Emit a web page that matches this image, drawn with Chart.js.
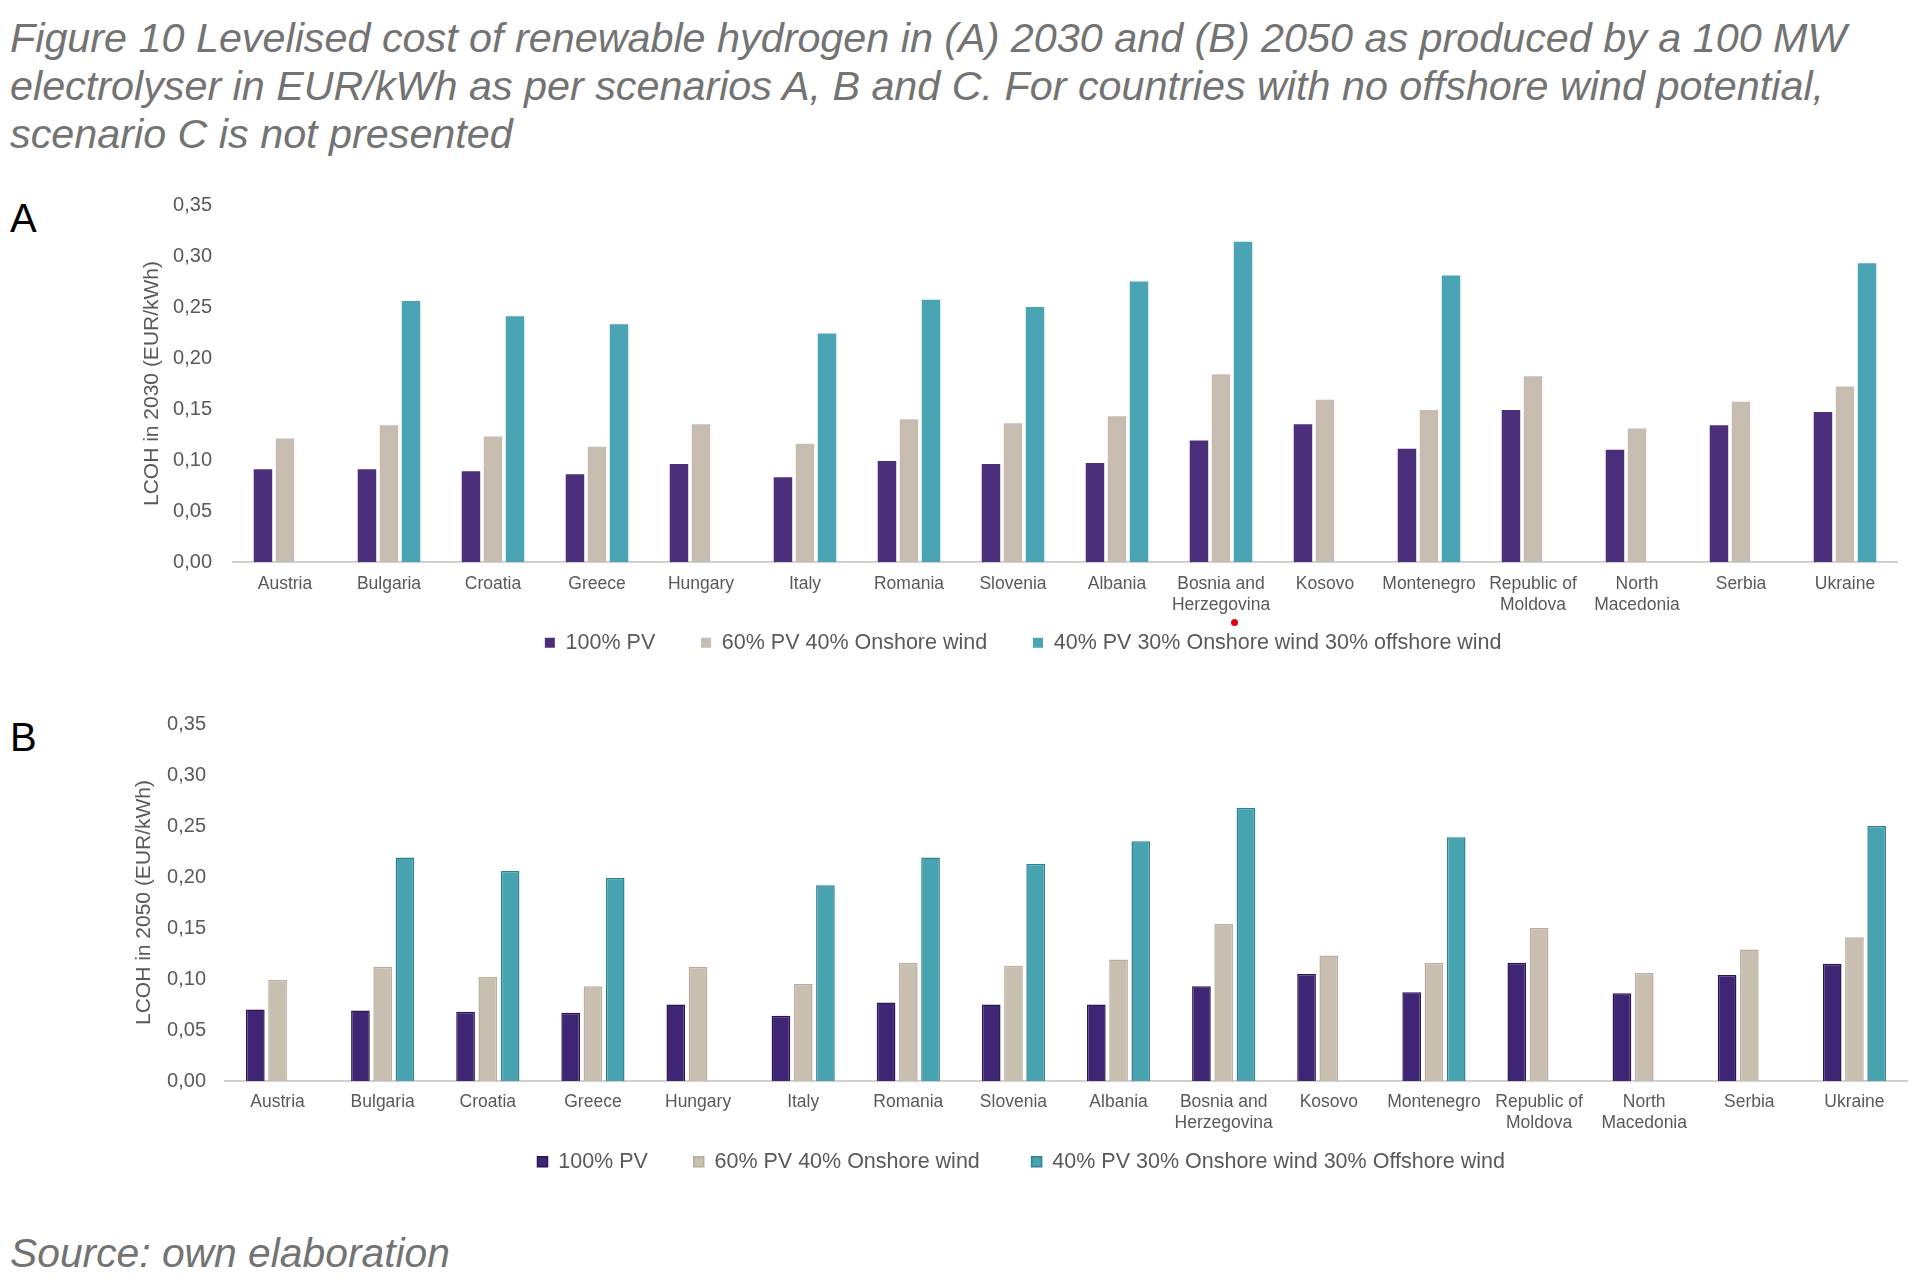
<!DOCTYPE html>
<html>
<head>
<meta charset="utf-8">
<script src="https://cdn.jsdelivr.net/npm/chart.js@4.4.1/dist/chart.umd.min.js"></script>
<style>
    body { margin: 0; background: #fff; width: 1926px; height: 1284px; position: relative; overflow: hidden; font-family: "Liberation Sans", Arial, sans-serif; }
    .title { position: absolute; left: 10px; top: 14px; font-size: 41.3px; line-height: 48px; font-style: italic; color: #737373; white-space: nowrap; }
    .panel { position: absolute; left: 10px; font-size: 40px; line-height: 40px; color: #000; }
    .source { position: absolute; left: 10px; top: 1233px; font-size: 40.8px; line-height: 40px; font-style: italic; color: #737373; white-space: nowrap; }
    .box { position: absolute; left: 0; width: 1926px; }
    .dot { position: absolute; left: 1231px; top: 619px; width: 7px; height: 7px; border-radius: 50%; background: #e3000f; }
</style>
</head>
<body>
<div class="title">Figure 10 Levelised cost of renewable hydrogen in (A) 2030 and (B) 2050 as produced by a 100 MW<br>electrolyser in EUR/kWh as per scenarios A, B and C. For countries with no offshore wind potential,<br>scenario C is not presented</div>
<div class="panel" style="top:198px">A</div>
<div class="panel" style="top:717px">B</div>
<div class="box" style="top:172px; height:500px"><canvas id="chartA"></canvas></div>
<div class="box" style="top:693px; height:497px"><canvas id="chartB"></canvas></div>
<div class="dot"></div>
<div class="source">Source: own elaboration</div>

<script>
const countries = ['Austria', 'Bulgaria', 'Croatia', 'Greece', 'Hungary', 'Italy', 'Romania', 'Slovenia', 'Albania',
    ['Bosnia and', 'Herzegovina'], 'Kosovo', 'Montenegro', ['Republic of', 'Moldova'], ['North', 'Macedonia'], 'Serbia', 'Ukraine'];

const yTicks = [0, 0.05, 0.10, 0.15, 0.20, 0.25, 0.30, 0.35];

// (A) 2030
const pv2030 = [0.091, 0.091, 0.089, 0.086, 0.096, 0.083, 0.099, 0.096, 0.097, 0.119, 0.135, 0.111, 0.149, 0.110, 0.134, 0.147];
const onshore2030 = [0.121, 0.134, 0.123, 0.113, 0.135, 0.116, 0.140, 0.136, 0.143, 0.184, 0.159, 0.149, 0.182, 0.131, 0.157, 0.172];
const offshore2030 = [null, 0.256, 0.241, 0.233, null, 0.224, 0.257, 0.250, 0.275, 0.314, null, 0.281, null, null, null, 0.293];

// (B) 2050
const pv2050 = [0.070, 0.069, 0.068, 0.067, 0.075, 0.064, 0.077, 0.075, 0.075, 0.093, 0.105, 0.087, 0.116, 0.086, 0.104, 0.115];
const onshore2050 = [0.099, 0.112, 0.102, 0.093, 0.112, 0.095, 0.116, 0.113, 0.119, 0.154, 0.123, 0.116, 0.150, 0.106, 0.129, 0.141];
const offshore2050 = [null, 0.219, 0.206, 0.199, null, 0.192, 0.219, 0.213, 0.235, 0.268, null, 0.239, null, null, null, 0.250];

const labelsA = ['100% PV', '60% PV 40% Onshore wind', '40% PV 30% Onshore wind 30% offshore wind'];
const labelsB = ['100% PV', '60% PV 40% Onshore wind', '40% PV 30% Onshore wind 30% Offshore wind'];

const grey = '#595959';
const font = '"Liberation Sans", Arial, sans-serif';

function makeChart(id, cfg) {
    const canvas = document.getElementById(id);
    canvas.width = 1926;
    canvas.height = cfg.height;

    const bar = (i) => ({
        label: cfg.names[i],
        data: cfg.series[i],
        backgroundColor: cfg.colors[i],
        borderColor: cfg.borders ? cfg.borders[i] : cfg.colors[i],
        borderWidth: cfg.borders ? 1.5 : 0,
        borderSkipped: 'bottom',
        categoryPercentage: 0.635,
        barPercentage: 0.84
    });

    return new Chart(canvas.getContext('2d'), {
        type: 'bar',
        data: {
            labels: countries,
            datasets: [bar(0), bar(1), bar(2)]
        },
        options: {
            responsive: false,
            animation: false,
            devicePixelRatio: 1,
            layout: { padding: { left: cfg.padLeft, right: cfg.padRight, top: 0, bottom: cfg.padBottom } },
            plugins: {
                tooltip: { enabled: false },
                legend: {
                    position: 'bottom',
                    fullSize: false,
                    labels: {
                        boxWidth: 10,
                        boxHeight: 10,
                        padding: 10,
                        color: grey,
                        font: { family: font, size: 21.5 },
                        // excel-like spacing between legend entries
                        generateLabels: chart => {
                            const items = Chart.defaults.plugins.legend.labels.generateLabels(chart);
                            items.forEach((it, i) => { it.text = it.text + '\u00a0'.repeat(cfg.legendGaps[i]); });
                            return items;
                        }
                    }
                }
            },
            scales: {
                x: {
                    grid: { display: false, drawTicks: false },
                    border: { color: '#d0d0d0', width: 2 },
                    ticks: {
                        color: grey,
                        font: { family: font, size: 17.5 },
                        padding: cfg.xPad,
                        maxRotation: 0,
                        autoSkip: false
                    },
                    afterFit: s => { s.height = 60; }
                },
                y: {
                    min: 0,
                    max: 0.35,
                    afterBuildTicks: s => { s.ticks = yTicks.map(v => ({ value: v })); },
                    grid: { display: false, drawTicks: false },
                    border: { display: false },
                    ticks: {
                        color: grey,
                        font: { family: font, size: 20 },
                        padding: cfg.yPad,
                        callback: v => v.toFixed(2).replace('.', ',')
                    },
                    title: {
                        display: true,
                        text: cfg.yTitle,
                        color: grey,
                        font: { family: font, size: 21 },
                        padding: { top: 5, bottom: 0 }
                    },
                    afterFit: s => { s.width = 98; }
                }
            }
        }
    });
}

makeChart('chartA', {
    names: labelsA,
    series: [pv2030, onshore2030, offshore2030],
    colors: ['#4b2f7a', '#c6bdb0', '#4aa4b3'],
    height: 500,
    padLeft: 135, padRight: 29, padBottom: 8.5,
    xPad: 12, yPad: 21,
    legendGaps: [6, 6, 14],
    yTitle: 'LCOH in 2030 (EUR/kWh)'
});

makeChart('chartB', {
    names: labelsB,
    series: [pv2050, onshore2050, offshore2050],
    colors: ['#3f2674', '#c8bfb1', '#48a3b1'],
    borders: ['#2a1656', '#b8ae9f', '#2f8190'],
    height: 497,
    padLeft: 127, padRight: 19, padBottom: 7.5,
    xPad: 11, yPad: 19,
    legendGaps: [6, 7, 15],
    yTitle: 'LCOH in 2050 (EUR/kWh)'
});
</script>
</body>
</html>
